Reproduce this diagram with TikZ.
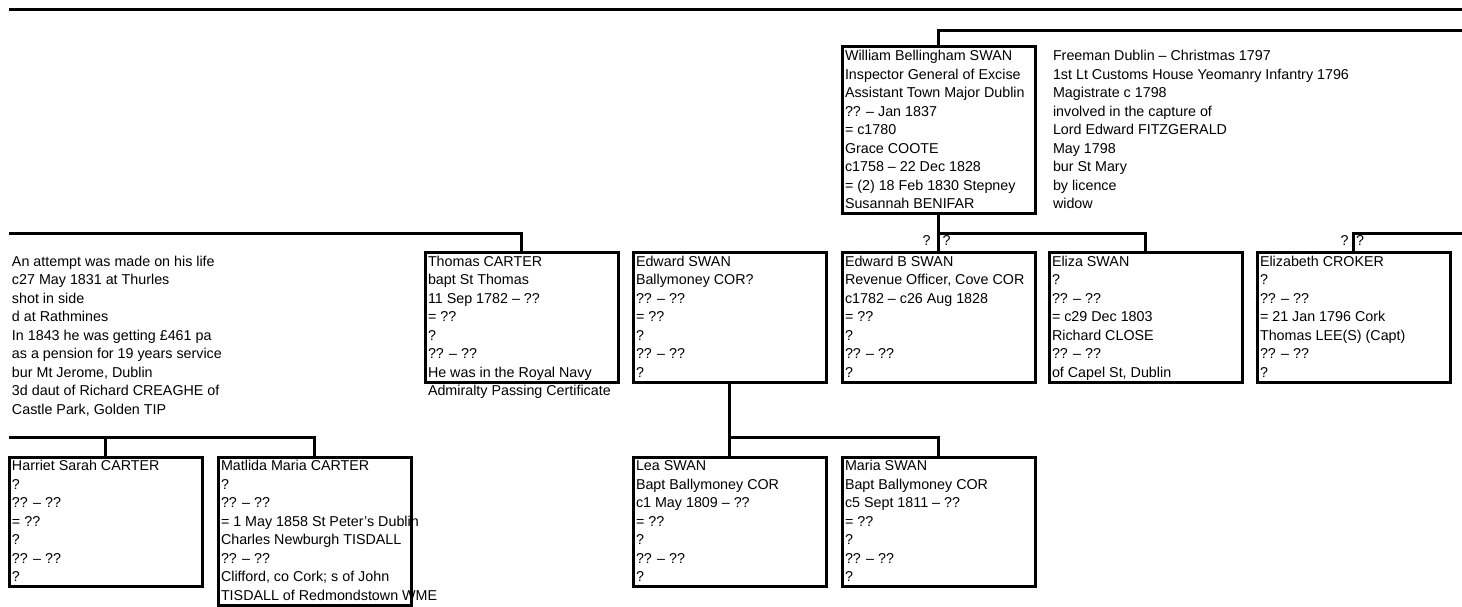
\documentclass[tikz,border=0pt]{standalone}
\usepackage{fontspec}
\setmainfont{Liberation Sans}
\newcommand\fs{\fontsize{14.3}{18.5}\selectfont}
\begin{document}
\begin{tikzpicture}[x=1pt,y=-1pt,
  box/.style={draw=black, line width=3pt, minimum width=193pt, inner sep=0pt, outer sep=0pt, anchor=north west},
  box7/.style={box, minimum height=129.5pt},
  txt/.style={anchor=north west, inner sep=0pt, outer sep=0pt, align=left, font=\fs},
  conn/.style={draw=black, line width=3pt, line join=miter},
  qm/.style={inner sep=0pt, outer sep=0pt, font=\fs}]
\useasboundingbox (0,0) rectangle (1462,607);
\fill[white] (0,0) rectangle (1462,607);

% ---------- generation 1 ----------
\node[box, minimum height=166.5pt] (william) at (842,47) {};
\node[txt] (williamT) at (845,48) {\strut William Bellingham SWAN\\Inspector General of Excise\\Assistant Town Major Dublin\\?? – Jan 1837\\= c1780\\Grace COOTE\\c1758 – 22 Dec 1828\\= (2) 18 Feb 1830 Stepney\\Susannah BENIFAR};
\node[txt] (williamN) at (1053,48) {\strut Freeman Dublin – Christmas 1797\\1st Lt Customs House Yeomanry Infantry 1796\\Magistrate c 1798\\involved in the capture of\\Lord Edward FITZGERALD\\May 1798\\bur St Mary\\by licence\\widow};

% ---------- generation 2 ----------
\node[txt] (leftN) at (12,253.5) {\strut An attempt was made on his life\\c27 May 1831 at Thurles\\shot in side\\d at Rathmines\\In 1843 he was getting £461 pa\\as a pension for 19 years service\\bur Mt Jerome, Dublin\\3d daut of Richard CREAGHE of\\Castle Park, Golden TIP};

\node[box7] (thomas) at (425,252.5) {};
\node[txt] (thomasT) at (428,253.5) {\strut Thomas CARTER\\bapt St Thomas\\11 Sep 1782 – ??\\= ??\\?\\?? – ??\\He was in the Royal Navy\\Admiralty Passing Certificate};

\node[box7] (edwards) at (633,252.5) {};
\node[txt] (edwardsT) at (636,253.5) {\strut Edward SWAN\\Ballymoney COR?\\?? – ??\\= ??\\?\\?? – ??\\?};

\node[box7] (edwardb) at (842,252.5) {};
\node[txt] (edwardbT) at (845,253.5) {\strut Edward B SWAN\\Revenue Officer, Cove COR\\c1782 – c26 Aug 1828\\= ??\\?\\?? – ??\\?};

\node[box7] (eliza) at (1049,252.5) {};
\node[txt] (elizaT) at (1052,253.5) {\strut Eliza SWAN\\?\\?? – ??\\= c29 Dec 1803\\Richard CLOSE\\?? – ??\\of Capel St, Dublin};

\node[box7] (croker) at (1257,252.5) {};
\node[txt] (crokerT) at (1260,253.5) {\strut Elizabeth CROKER\\?\\?? – ??\\= 21 Jan 1796 Cork\\Thomas LEE(S) (Capt)\\?? – ??\\?};

% ---------- generation 3 ----------
\node[box7] (harriet) at (9,457) {};
\node[txt] (harrietT) at (12,458) {\strut Harriet Sarah CARTER\\?\\?? – ??\\= ??\\?\\?? – ??\\?};

\node[box, minimum height=148pt] (matilda) at (218,457) {};
\node[txt] (matildaT) at (221,458) {\strut Matlida Maria CARTER\\?\\?? – ??\\= 1 May 1858 St Peter's Dublin\\Charles Newburgh TISDALL\\?? – ??\\Clifford, co Cork; s of John\\TISDALL of Redmondstown WME};

\node[box7] (lea) at (633,457) {};
\node[txt] (leaT) at (636,458) {\strut Lea SWAN\\Bapt Ballymoney COR\\c1 May 1809 – ??\\= ??\\?\\?? – ??\\?};

\node[box7] (maria) at (842,457) {};
\node[txt] (mariaT) at (845,458) {\strut Maria SWAN\\Bapt Ballymoney COR\\c5 Sept 1811 – ??\\= ??\\?\\?? – ??\\?};

% ---------- connectors ----------
\coordinate (topL) at (9,10);
\coordinate (topR) at (1462,10);
\coordinate (wR) at (1462,31);
\coordinate (j2) at (0,233);
\coordinate (j2L) at (9,233);
\coordinate (j2R) at (1462,233);
\coordinate (j3) at (0,437);
\coordinate (j3L) at (9,437);

\draw[conn] (topL) -- (topR);
\draw[conn] (wR) -| (william.north);
\draw[conn] (william.south) -- (william.south |- j2) -| (eliza.north);
\draw[conn] (j2 -| edwardb.north) -- (edwardb.north);
\draw[conn] (j2R) -| (croker.north);
\draw[conn] (j2L) -| (thomas.north);
\draw[conn] (edwards.south) -- (edwards.south |- j3) -| (maria.north);
\draw[conn] (j3 -| lea.north) -- (lea.north);
\draw[conn] (j3L) -| (matilda.north);
\draw[conn] (j3 -| harriet.north) -- (harriet.north);

% ---------- question marks beside connectors ----------
\node[qm, anchor=base east] (q1) at ([xshift=-8pt]j2 -| edwardb.north) {\raisebox{-13pt}{?}};
\node[qm, anchor=base west] (q2) at ([xshift=4pt]j2 -| edwardb.north) {\raisebox{-13pt}{?}};
\node[qm, anchor=base east] (q3) at ([xshift=-5pt]j2 -| croker.north) {\raisebox{-13pt}{?}};
\node[qm, anchor=base west] (q4) at ([xshift=2.5pt]j2 -| croker.north) {\raisebox{-13pt}{?}};
\end{tikzpicture}
\end{document}
